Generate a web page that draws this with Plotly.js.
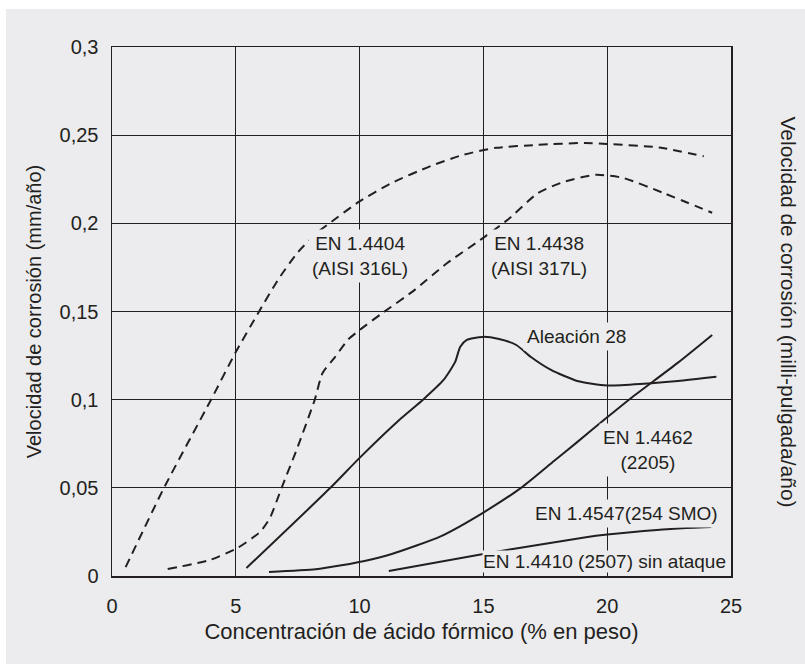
<!DOCTYPE html>
<html><head><meta charset="utf-8">
<script src="https://cdn.plot.ly/plotly-3.0.1.min.js"></script>
<style>
html,body{margin:0;padding:0;background:#ffffff;}
#chart{position:absolute;left:6px;top:9px;width:799px;height:655px;}
</style></head>
<body><div id="chart"></div>
<script>
// EN 1.4404 (AISI 316L) - dashed
const x316 = [0.55, 2.1, 4.0, 5.0, 5.94, 6.73, 7.52, 8.31, 8.78, 10.0, 11.3, 12.87, 14.17, 15.5, 17.2, 19.1, 20.0, 22.1, 23.9];
const y316 = [0.005, 0.05, 0.1, 0.127, 0.150, 0.1685, 0.1838, 0.195, 0.2, 0.2125, 0.2229, 0.2325, 0.2388, 0.2428, 0.2445, 0.2456, 0.245, 0.243, 0.238];
// EN 1.4438 (AISI 317L) - dashed
const x317 = [2.25, 3.94, 5.08, 5.98, 6.38, 6.85, 7.44, 8.19, 8.5, 9.0, 9.53, 10.0, 10.91, 12.2, 13.54, 14.88, 15.98, 17.19, 18.24, 19.53, 20.63, 22.31, 24.24];
const y317 = [0.004, 0.009, 0.016, 0.025, 0.033, 0.05, 0.071, 0.1, 0.115, 0.124, 0.134, 0.1395, 0.149, 0.162, 0.1775, 0.1906, 0.202, 0.217, 0.2235, 0.2275, 0.2258, 0.217, 0.206];
// Aleación 28 - solid
const xA28 = [5.43, 8.82, 10.0, 11.69, 12.56, 13.39, 13.86, 14.06, 14.33, 14.96, 15.63, 16.33, 16.92, 17.73, 18.79, 20.0, 21.47, 22.86, 24.41];
const yA28 = [0.0045, 0.05, 0.067, 0.0896, 0.1, 0.1112, 0.1214, 0.1299, 0.1339, 0.1356, 0.1344, 0.131, 0.1242, 0.1169, 0.1106, 0.108, 0.109, 0.1106, 0.113];
// EN 1.4462 (2205) - solid
const x2205 = [6.34, 8.23, 9.33, 10.2, 11.3, 13.27, 15.0, 16.52, 17.85, 18.75, 20.0, 20.88, 22.86, 24.24];
const y2205 = [0.0023, 0.0038, 0.0062, 0.0085, 0.0125, 0.0225, 0.036, 0.05, 0.0652, 0.0755, 0.09, 0.1, 0.121, 0.1367];
// EN 1.4547 (254 SMO) - solid
const xSMO = [11.18, 15.0, 17.19, 19.14, 20.0, 21.47, 22.86, 24.2];
const ySMO = [0.0028, 0.0125, 0.0176, 0.022, 0.0235, 0.0255, 0.027, 0.0278];

const xTicks = [0, 5, 10, 15, 20, 25];
const yTicks = [0, 0.05, 0.1, 0.15, 0.2, 0.25, 0.3];
const y2Ticks = [0, 2, 4, 6, 8, 10, 12];

const labelText = ["EN 1.4404<br>(AISI 316L)", "EN 1.4438<br>(AISI 317L)", "Aleación 28", "EN 1.4462<br>(2205)", "EN 1.4547(254 SMO)", "EN 1.4410 (2507) sin ataque"];
const labelX = [10.02, 17.25, 18.78, 21.65, 20.76, 19.91];
const labelY = [0.1815, 0.1815, 0.1361, 0.0715, 0.0352, 0.0082];

const ink = '#231f20';
const bg = '#ececee';
const font = 'Liberation Sans, Arial, Helvetica, sans-serif';

function line(x, y, dash) {
  return {x: x, y: y, type: 'scatter', mode: 'lines', hoverinfo: 'skip',
    line: {color: ink, width: 2, dash: dash, shape: 'spline', smoothing: 0.6}};
}
const data = [
  line(x316, y316, '9px,6px'),
  line(x317, y317, '9px,6px'),
  line(xA28, yA28, 'solid'),
  line(x2205, y2205, 'solid'),
  line(xSMO, ySMO, 'solid')
];

const annotations = labelText.map((t, i) => ({
  x: labelX[i], y: labelY[i], xref: 'x', yref: 'y', text: t, showarrow: false,
  font: {family: font, size: 19, color: ink}, bgcolor: bg,
  borderpad: i === 5 ? 0 : 3, align: 'center'
}));
annotations.push({
  xref: 'paper', yref: 'paper', x: 1, y: 0.5, xanchor: 'center', yanchor: 'middle', xshift: 57,
  text: 'Velocidad de corrosión (milli-pulgada/año)',
  textangle: 90, showarrow: false, font: {family: font, size: 21, color: ink}
});

const layout = {
  width: 799, height: 655,
  paper_bgcolor: bg, plot_bgcolor: bg,
  separators: ',.',
  showlegend: false,
  margin: {l: 106, r: 74, t: 38, b: 88},
  font: {family: font, color: ink},
  xaxis: {
    range: [0, 25], tickvals: xTicks, showgrid: true, gridcolor: ink, gridwidth: 1.3,
    showline: true, linecolor: ink, linewidth: 1.5, mirror: true, zeroline: false,
    ticks: '', ticklabelstandoff: 11, tickfont: {size: 20, color: ink},
    title: {text: 'Concentración de ácido fórmico (% en peso)', font: {size: 22, color: ink}, standoff: 8}
  },
  yaxis: {
    range: [0, 0.3], tickvals: yTicks, showgrid: true, gridcolor: ink, gridwidth: 1.3,
    showline: true, linecolor: ink, linewidth: 1.5, mirror: true, zeroline: false,
    ticks: '', ticklabelstandoff: 8, tickfont: {size: 20, color: ink},
    title: {text: 'Velocidad de corrosión (mm/año)', font: {size: 20, color: ink}, standoff: 12}
  },
  yaxis2: {
    range: [0, 12], tickvals: y2Ticks, overlaying: 'y', side: 'right', showgrid: false,
    zeroline: false, showline: false, ticks: '', ticklabelstandoff: 19,
    tickfont: {size: 20, color: ink}
  },
  annotations: annotations
};
Plotly.newPlot('chart', data, layout, {displayModeBar: false, staticPlot: true});
</script></body></html>
